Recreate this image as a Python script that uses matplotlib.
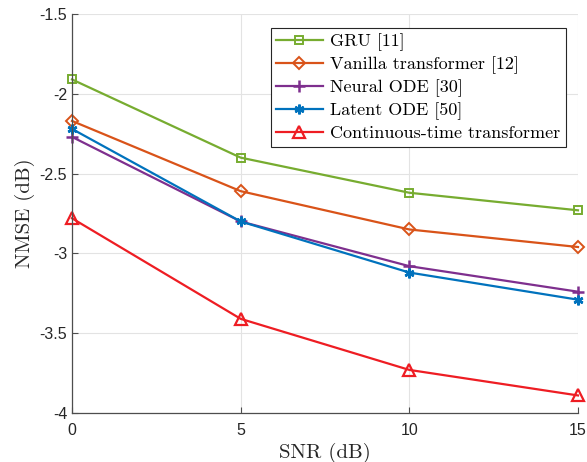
import matplotlib
matplotlib.use("Agg")
import matplotlib.pyplot as plt

snr = [0, 5, 10, 15]
gru = [-1.91, -2.40, -2.62, -2.73]
vanilla = [-2.17, -2.61, -2.85, -2.96]
neural_ode = [-2.27, -2.80, -3.08, -3.24]
latent_ode = [-2.22, -2.80, -3.12, -3.29]
ct_transformer = [-2.78, -3.41, -3.73, -3.89]

labels = ["GRU [11]", "Vanilla transformer [12]", "Neural ODE [30]",
          "Latent ODE [50]", "Continuous-time transformer"]
xticks = [0, 5, 10, 15]
yticks = [-4, -3.5, -3, -2.5, -2, -1.5]
ytick_labels = ["-4", "-3.5", "-3", "-2.5", "-2", "-1.5"]

plt.rcParams['mathtext.fontset'] = 'cm'
serif = 'cmr10'
tickfont = 'Liberation Sans'

fig = plt.figure(figsize=(5.87, 4.62), dpi=100)
ax = fig.add_axes([72/587, 1-413/462, (578-72)/587, (413-14)/462])

styles = [
    (gru, '#77AC30', dict(marker='s', markersize=6, markerfacecolor='none')),
    (vanilla, '#D95319', dict(marker='D', markersize=6, markerfacecolor='none')),
    (neural_ode, '#7E2F8E', dict(marker='+', markersize=8, markeredgewidth=1.8)),
    (latent_ode, '#0072BD', dict(marker=(6, 2, 0), markersize=7, markeredgewidth=1.8)),
    (ct_transformer, '#EE1D23', dict(marker='^', markersize=8, markerfacecolor='none', markeredgewidth=1.6)),
]
for (vals, col, mk), lab in zip(styles, labels):
    kw = dict(mk)
    kw.setdefault('markeredgewidth', 1.4)
    ax.plot(snr, vals, color=col, linewidth=1.6, label=lab, clip_on=False, **kw)

ax.set_xlim(0, 15)
ax.set_ylim(-4, -1.5)
ax.set_xticks(xticks)
ax.set_yticks(yticks)
ax.set_yticklabels(ytick_labels)
ax.grid(True, color='#E3E3E3', linewidth=0.8)
ax.set_axisbelow(True)
for s in ['top', 'right']:
    ax.spines[s].set_visible(False)
for s in ['left', 'bottom']:
    ax.spines[s].set_color('#4D4D4D')
    ax.spines[s].set_linewidth(0.9)
ax.tick_params(direction='in', length=4, colors='#4D4D4D', labelsize=11.5, width=0.8)
for t in ax.get_xticklabels() + ax.get_yticklabels():
    t.set_fontfamily(tickfont)
    t.set_color('#262626')
ax.tick_params(axis='x', pad=7)
ax.set_xlabel("SNR (dB)", fontfamily=serif, fontsize=15, color='#262626', labelpad=4)
ax.set_ylabel("NMSE (dB)", fontfamily=serif, fontsize=15, color='#262626', labelpad=3)

leg = ax.legend(loc='upper right', bbox_to_anchor=(0.983, 0.975), prop={'family': serif, 'size': 13},
                frameon=True, fancybox=False, edgecolor='#262626', framealpha=1,
                handlelength=2.6, handletextpad=0.4, borderpad=0.3, labelspacing=0.3,
                borderaxespad=0.2)
leg.get_frame().set_linewidth(0.8)

fig.savefig("out.png", dpi=100)
